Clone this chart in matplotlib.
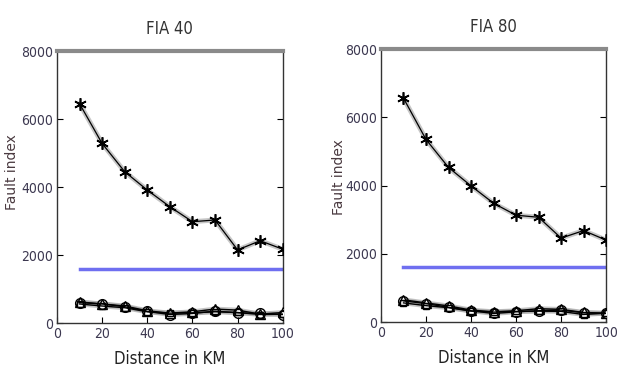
import numpy as np
import matplotlib
matplotlib.use('Agg')
import matplotlib.pyplot as plt

dist = [10, 20, 30, 40, 50, 60, 70, 80, 90, 100]

# FIA 40
fia40_star = [6450, 5280, 4450, 3910, 3420, 2980, 3030, 2150, 2420, 2170]
fia40_tri = [620, 560, 500, 360, 290, 330, 410, 380, 260, 310]
fia40_circ = [600, 560, 480, 340, 250, 280, 350, 300, 280, 250]
fia40_sq = [560, 500, 450, 330, 290, 300, 330, 310, 250, 260]
fia40_thr = 1600

# FIA 80
fia80_star = [6560, 5350, 4530, 3990, 3480, 3130, 3070, 2460, 2680, 2400]
fia80_tri = [650, 560, 470, 350, 300, 330, 390, 370, 280, 260]
fia80_circ = [620, 540, 430, 330, 250, 300, 330, 350, 270, 250]
fia80_sq = [560, 480, 420, 320, 290, 310, 320, 310, 220, 260]
fia80_thr = 1600

titles = ['FIA 40', 'FIA 80']
xticks = [0, 20, 40, 60, 80, 100]
yticks = [0, 2000, 4000, 6000, 8000]

tick_col = '#3c3850'

fig = plt.figure(figsize=(6.22, 3.85), dpi=100)
ax1 = fig.add_axes([0.0916, 0.161, 0.363, 0.7065])
ax2 = fig.add_axes([0.6125, 0.1636, 0.362, 0.709])

data = [
    (ax1, fia40_star, fia40_tri, fia40_circ, fia40_sq, fia40_thr),
    (ax2, fia80_star, fia80_tri, fia80_circ, fia80_sq, fia80_thr),
]
ylab_pos = [(12 / 622, 0.553), (339 / 622, 0.54)]

for i, (ax, star, tri, circ, sq, thr) in enumerate(data):
    # gray halo under the lines, like the blurry original
    for ys in [star, tri, circ, sq]:
        ax.plot(dist, ys, color='#a0a0a0', lw=3.5, alpha=0.6, zorder=2)
    ax.plot(dist, star, color='black', lw=0.9, marker=(6, 2, 0), ms=9,
            mew=1.2, zorder=3)
    ax.plot(dist, tri, color='black', lw=1.0, marker='^', ms=7,
            mfc='white', mew=1.0, zorder=3)
    ax.plot(dist, circ, color='black', lw=1.0, marker='o', ms=7,
            mfc='none', mew=1.0, zorder=3)
    ax.plot(dist, sq, color='black', lw=1.0, marker='s', ms=5,
            mfc='none', mew=1.0, zorder=3)
    ax.plot([dist[0], dist[-1]], [thr, thr], color='#6f6ff0', lw=2.5, zorder=2)

    ax.set_xlim(0, 100)
    ax.set_ylim(0, 8000)
    ax.set_xticks(xticks)
    ax.set_yticks(yticks)
    ax.tick_params(direction='in', length=4, top=False, right=True,
                   labelsize=10, labelcolor=tick_col, width=0.8, pad=3)
    for lab in ax.get_xticklabels() + ax.get_yticklabels():
        lab.set_fontstretch('condensed')
    ax.spines['top'].set_color('#8a8a8a')
    ax.spines['top'].set_linewidth(3)
    for s in ['left', 'bottom', 'right']:
        ax.spines[s].set_color('#333333')
        ax.spines[s].set_linewidth(1.0)

    ax.set_title(titles[i], fontstretch='condensed', fontsize=12,
                 color='#333333', pad=12)
    ax.set_xlabel('Distance in KM', fontstretch='condensed', fontsize=12,
                  color='#222222', labelpad=6)
    fig.text(ylab_pos[i][0], ylab_pos[i][1], 'Fault index', rotation=90,
             fontsize=10, color='#4a3a40', ha='center', va='center')

fig.savefig('out.png', dpi=100)
